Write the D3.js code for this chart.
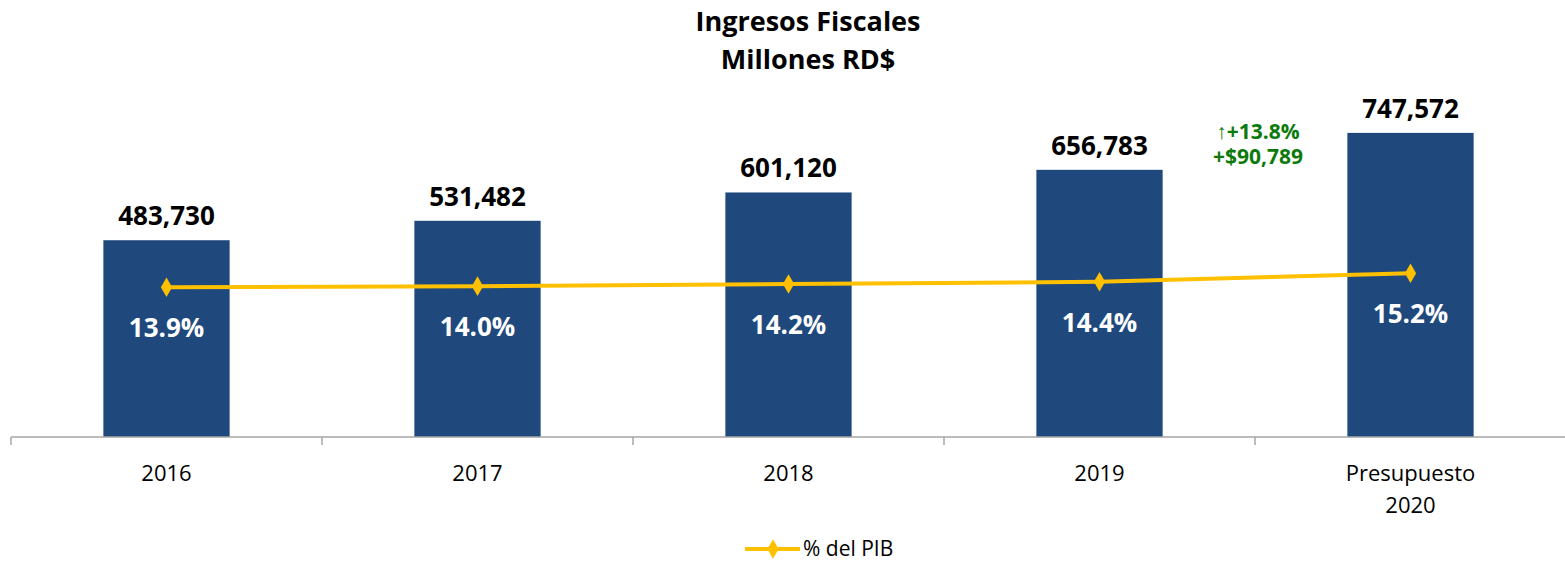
<!DOCTYPE html>
<html>
<head>
<meta charset="utf-8">
<script src="https://cdn.jsdelivr.net/npm/d3@7"></script>
<style>
    body { margin: 0; background: #fff; }
    text { font-family: "Open Sans", "Noto Sans", sans-serif; }
</style>
</head>
<body>
<div id="chart"></div>
<script>
const categories = ['2016', '2017', '2018', '2019', 'Presupuesto 2020'];
const ingresos = [483730, 531482, 601120, 656783, 747572];
const pctPib = [13.9, 14.0, 14.2, 14.4, 15.2];
const annotationLines = ['\u2191+13.8%', '+$90,789'];

const width = 1565, height = 563;
const margin = { top: 90, right: 0, bottom: 126, left: 11 };
const innerW = width - margin.left - margin.right;
const innerH = height - margin.top - margin.bottom;

const svg = d3.select('#chart').append('svg')
    .attr('width', width)
    .attr('height', height);

const chart = svg.append('g')
    .attr('transform', `translate(${margin.left},${margin.top})`);

const xScale = d3.scaleBand()
    .domain(categories)
    .range([0, 311 * 5])
    .paddingInner(0.594)
    .paddingOuter(0.297);

const yScale = d3.scaleLinear()
    .domain([0, 853000])
    .range([innerH, 0]);

const y2Scale = d3.scaleLinear()
    .domain([0, 32.2])
    .range([innerH, 0]);

// title
svg.append('text')
    .attr('x', 808).attr('y', 31)
    .attr('text-anchor', 'middle')
    .style('font-size', '27px').style('font-weight', 'bold')
    .text('Ingresos Fiscales');
svg.append('text')
    .attr('x', 808).attr('y', 69)
    .attr('text-anchor', 'middle')
    .style('font-size', '27px').style('font-weight', 'bold')
    .text('Millones RD$');

// bars
chart.selectAll('.bar')
    .data(ingresos)
    .join('rect')
    .attr('class', 'bar')
    .attr('x', (d, i) => xScale(categories[i]))
    .attr('y', d => yScale(d))
    .attr('width', xScale.bandwidth())
    .attr('height', d => innerH - yScale(d))
    .attr('fill', '#1f497d');

chart.selectAll('.val-label')
    .data(ingresos)
    .join('text')
    .attr('class', 'val-label')
    .attr('x', (d, i) => xScale(categories[i]) + xScale.bandwidth() / 2)
    .attr('y', d => yScale(d) - 15)
    .attr('text-anchor', 'middle')
    .style('font-size', '26px').style('font-weight', 'bold')
    .style('fill', '#000')
    .text(d => d3.format(',')(d));

// x axis
const step = xScale.step();
const axisG = chart.append('g')
    .attr('transform', `translate(0,${innerH})`);
axisG.append('line')
    .attr('x1', 0).attr('x2', innerW)
    .attr('stroke', '#a6a6a6').attr('stroke-width', 1.5);
axisG.selectAll('.tick')
    .data(d3.range(categories.length))
    .join('line')
    .attr('x1', d => d * step).attr('x2', d => d * step)
    .attr('y1', 0).attr('y2', 8)
    .attr('stroke', '#a6a6a6').attr('stroke-width', 1.5);

chart.selectAll('.cat-label')
    .data(categories)
    .join('text')
    .attr('class', 'cat-label')
    .attr('text-anchor', 'middle')
    .style('font-size', '22px')
    .style('fill', '#000')
    .each(function (d) {
        const words = d.split(' ');
        const t = d3.select(this);
        words.forEach((w, i) => {
            t.append('tspan')
                .attr('x', xScale(d) + xScale.bandwidth() / 2)
                .attr('y', innerH + 44 + i * 32)
                .text(w);
        });
    });

// line
const line = d3.line()
    .x((d, i) => xScale(categories[i]) + xScale.bandwidth() / 2)
    .y(d => y2Scale(d));

chart.append('path')
    .datum(pctPib)
    .attr('fill', 'none')
    .attr('stroke', '#ffc000')
    .attr('stroke-width', 4)
    .attr('d', line);

const diamond = d3.symbol().type(d3.symbolDiamond).size(110);
chart.selectAll('.marker')
    .data(pctPib)
    .join('path')
    .attr('class', 'marker')
    .attr('transform', (d, i) => `translate(${xScale(categories[i]) + xScale.bandwidth() / 2},${y2Scale(d)})`)
    .attr('d', diamond)
    .attr('fill', '#ffc000');

chart.selectAll('.pct-label')
    .data(pctPib)
    .join('text')
    .attr('class', 'pct-label')
    .attr('x', (d, i) => xScale(categories[i]) + xScale.bandwidth() / 2)
    .attr('y', d => y2Scale(d) + 50)
    .attr('text-anchor', 'middle')
    .style('font-size', '26px').style('font-weight', 'bold')
    .style('fill', '#fff')
    .text(d => d.toFixed(1) + '%');

// growth annotation
svg.selectAll('.annot')
    .data(annotationLines)
    .join('text')
    .attr('class', 'annot')
    .attr('x', 1258)
    .attr('y', (d, i) => 139 + i * 25)
    .attr('text-anchor', 'middle')
    .style('font-size', '21px').style('font-weight', 'bold')
    .style('fill', '#0b7a0b')
    .text(d => d);

// legend
const legend = svg.append('g').attr('transform', 'translate(745,549)');
legend.append('line')
    .attr('x1', 0).attr('x2', 55)
    .attr('stroke', '#ffc000').attr('stroke-width', 4);
legend.append('path')
    .attr('transform', 'translate(28,0)')
    .attr('d', diamond)
    .attr('fill', '#ffc000');
legend.append('text')
    .attr('x', 58).attr('y', 7)
    .style('font-size', '21px')
    .style('fill', '#000')
    .text('% del PIB');
</script>
</body>
</html>
